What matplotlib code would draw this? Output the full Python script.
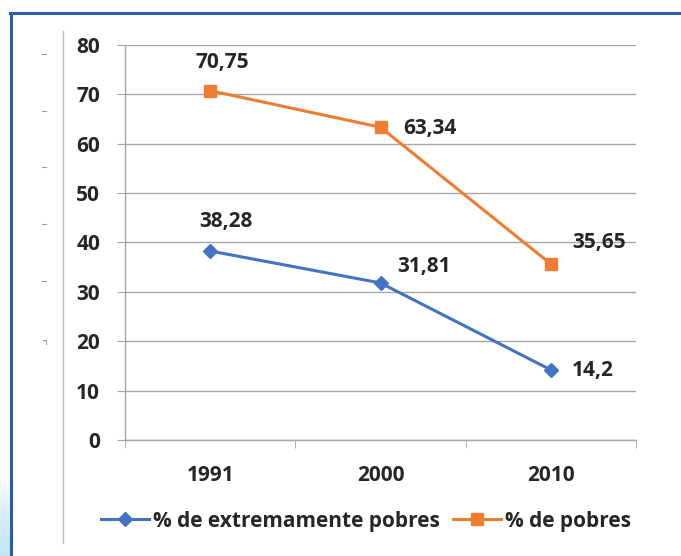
import numpy as np
from matplotlib import pyplot as plt
from matplotlib.lines import Line2D
from matplotlib.colors import LinearSegmentedColormap

years = ['1991', '2000', '2010']
extreme_poor = [38.28, 31.81, 14.2]
poor = [70.75, 63.34, 35.65]
extreme_labels = ['38,28', '31,81', '14,2']
poor_labels = ['70,75', '63,34', '35,65']

W, H = 681, 556
BLUE = '#4472C4'
ORANGE = '#ED7D31'
TEXT = '#262626'
GRID = '#A6A6A6'
FS = 15

plt.rcParams['font.family'] = ['Open Sans', 'DejaVu Sans']
plt.rcParams['font.weight'] = 'bold'

fig = plt.figure(figsize=(W / 100, H / 100), dpi=100)


def fx(px):
    return px / W


def fy(py):
    return 1 - py / H


# light blue corner, left of the frame line
gax = fig.add_axes([0, 0, fx(10), fy(475)], zorder=-5)
grad = np.linspace(0, 1, 50).reshape(-1, 1)
gax.imshow(grad, aspect='auto', origin='upper',
           cmap=LinearSegmentedColormap.from_list('lb', ['#ffffff', '#d6ecf9', '#c4e4f6']))
gax.axis('off')

# frame decorations around the chart
fig.add_artist(Line2D([fx(10), 1], [fy(13), fy(13)], color='#2B5CA6', lw=2.2))
fig.add_artist(Line2D([fx(11), fx(11)], [fy(13), 0], color='#2B5CA6', lw=2.2))
fig.add_artist(Line2D([fx(63), fx(63)], [fy(31), fy(543)], color='#BFBFBF', lw=1))
for py in [54, 111, 167, 224, 281]:
    fig.add_artist(Line2D([fx(42), fx(46)], [fy(py), fy(py)], color='#9A9A9A', lw=0.8))
fig.add_artist(Line2D([fx(43), fx(46), fx(46)], [fy(340), fy(340), fy(344)], color='#9A9A9A', lw=0.8))

ax = fig.add_axes([fx(125), fy(440), fx(636 - 125), (440 - 45) / H])
x = np.arange(len(years))

ax.plot(x, extreme_poor, color=BLUE, lw=2.2, marker='D', markersize=7.5,
        label='% de extremamente pobres', zorder=3)
ax.plot(x, poor, color=ORANGE, lw=2.2, marker='s', markersize=8.5,
        label='% de pobres', zorder=3)

# data labels (pixel offsets from each point)
poor_off = [(12, 28), (49, -1), (48, 21)]
extreme_off = [(16, 29), (44, 16), (42, -1)]
for i in range(len(years)):
    ax.annotate(poor_labels[i], (x[i], poor[i]), xytext=poor_off[i], textcoords='offset pixels',
                ha='center', va='center', fontsize=FS, fontweight='bold', color=TEXT)
    ax.annotate(extreme_labels[i], (x[i], extreme_poor[i]), xytext=extreme_off[i],
                textcoords='offset pixels', ha='center', va='center', fontsize=FS,
                fontweight='bold', color=TEXT)

ax.set_xlim(-0.5, 2.5)
ax.set_ylim(0, 80)
ax.set_yticks(range(0, 81, 10))
ax.set_xticks(x)
ax.set_xticklabels(years)
ax.set_xticks([-0.5, 0.5, 1.5, 2.5], minor=True)
ax.tick_params(axis='x', which='major', length=0, pad=18, labelsize=FS, labelcolor=TEXT)
ax.tick_params(axis='x', which='minor', length=6, color=GRID, direction='out')
ax.tick_params(axis='y', length=6, color=GRID, pad=12, labelsize=FS, labelcolor=TEXT)
for lab in ax.get_xticklabels() + ax.get_yticklabels():
    lab.set_fontweight('bold')

ax.grid(axis='y', color=GRID, lw=1)
ax.set_axisbelow(True)
for side in ['top', 'right']:
    ax.spines[side].set_visible(False)
for side in ['left', 'bottom']:
    ax.spines[side].set_color(GRID)
    ax.spines[side].set_linewidth(1)

fig.legend(loc='center', bbox_to_anchor=(fx(366), fy(521)), ncol=2, frameon=False,
           handlelength=2.3, handletextpad=0.2, columnspacing=0.6,
           prop={'weight': 'bold', 'size': FS})
for t in fig.legends[0].get_texts():
    t.set_color(TEXT)

fig.savefig('out.png', dpi=100)
